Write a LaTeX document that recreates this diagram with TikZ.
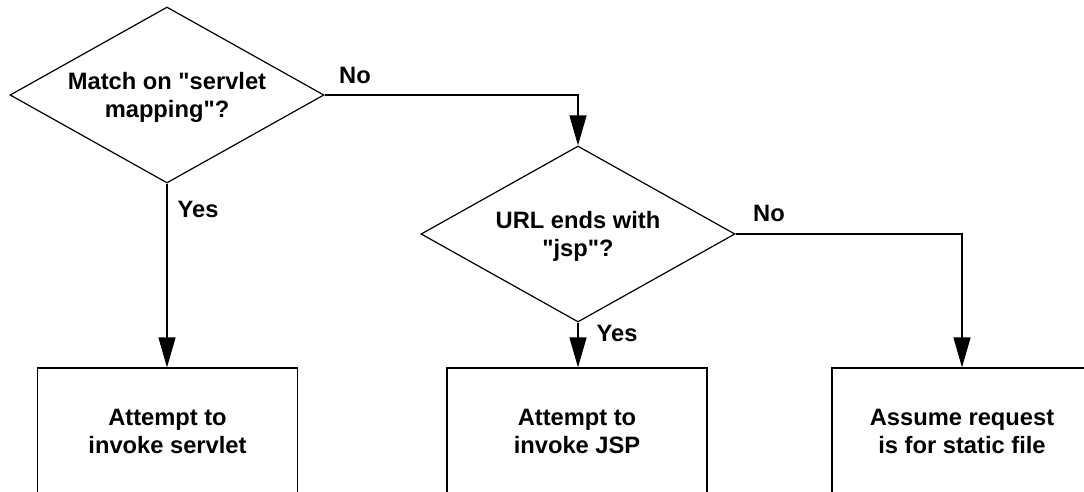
\documentclass[tikz,border=0pt]{standalone}
\usepackage{fontspec}
\setmainfont{Liberation Sans}
\usetikzlibrary{shapes.geometric,arrows.meta}

\tikzset{
  decision/.style={diamond, draw, line width=1.2pt, aspect=1.8,
    minimum width=314pt, minimum height=176pt, inner sep=0pt, align=center,
    text depth=-4pt},
  action/.style={rectangle, draw, line width=1.2pt,
    minimum width=260pt, minimum height=127pt, align=center},
  arr/.style={line width=1.2pt, -{Triangle[length=30pt,width=17pt]}}
}

\begin{document}
\begin{tikzpicture}[x=1pt, y=-1pt, font=\bfseries\fontsize{23.7}{28}\selectfont]
        \clip (0,0) rectangle (1084,491);

        % decisions
        \node[decision] (servletmap) at (167, 95) {Match on \textquotedbl servlet\\mapping\textquotedbl ?};
        \node[decision] (jspcheck) at (578, 234) {URL ends with\\\textquotedbl jsp\textquotedbl ?};

        % actions
        \node[action] (servlet) at (167.5, 431.5) {Attempt to\\invoke servlet};
        \node[action] (jsp) at (577, 431.5) {Attempt to\\invoke JSP};
        \node[action] (static) at (962, 431.5) {Assume request\\is for static file};

        \draw[arr] (servletmap.south) -- (servletmap.south |- servlet.north);
        \draw[arr] (servletmap.east) -| (jspcheck.north);
        \draw[arr] (jspcheck.south) -- (jspcheck.south |- jsp.north);
        \draw[arr] (jspcheck.east) -| (static.north);

        \node (yesservlet) at (198, 209) {Yes};
        \node (noservlet) at (355, 75) {No};
        \node (yesjsp) at (617, 333) {Yes};
        \node (nojsp) at (769, 213) {No};

    \end{tikzpicture}
\end{document}
